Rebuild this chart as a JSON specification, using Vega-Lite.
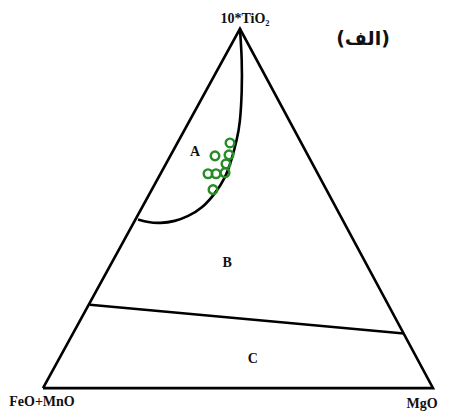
{
  "$schema": "https://vega.github.io/schema/vega-lite/v6.json",
  "width": 460,
  "height": 412,
  "padding": 0,
  "autosize": {"type": "fit", "contains": "padding"},
  "background": "white",
  "config": {"view": {"stroke": null}},
  "datasets": {
    "tri": [
      {"i": 0, "x": 0, "y": 0},
      {"i": 1, "x": 0.505, "y": 1},
      {"i": 2, "x": 1, "y": 0},
      {"i": 3, "x": 0, "y": 0}
    ],
    "curve": [
      {"i": 0, "x": 0.505, "y": 1},
      {"i": 1, "x": 0.5103, "y": 0.9144},
      {"i": 2, "x": 0.5103, "y": 0.826},
      {"i": 3, "x": 0.5051, "y": 0.7348},
      {"i": 4, "x": 0.4974, "y": 0.6934},
      {"i": 5, "x": 0.4846, "y": 0.6381},
      {"i": 6, "x": 0.4667, "y": 0.5829},
      {"i": 7, "x": 0.441, "y": 0.5414},
      {"i": 8, "x": 0.4077, "y": 0.5},
      {"i": 9, "x": 0.3718, "y": 0.4779},
      {"i": 10, "x": 0.3385, "y": 0.4641},
      {"i": 11, "x": 0.3, "y": 0.4586},
      {"i": 12, "x": 0.2692, "y": 0.4613},
      {"i": 13, "x": 0.2436, "y": 0.4696}
    ],
    "bc": [
      {"i": 0, "x": 0.1205, "y": 0.232},
      {"i": 1, "x": 0.9256, "y": 0.152}
    ],
    "pts": [
      {"x": 0.4795, "y": 0.6823},
      {"x": 0.441, "y": 0.6464},
      {"x": 0.4769, "y": 0.6492},
      {"x": 0.4692, "y": 0.6243},
      {"x": 0.4231, "y": 0.5967},
      {"x": 0.4436, "y": 0.5967},
      {"x": 0.4667, "y": 0.5994},
      {"x": 0.4359, "y": 0.5525}
    ],
    "labels": [
      {"t": "10*TiO₂", "x": 0.518, "y": 1.028, "a": "center"},
      {"t": "FeO+MnO", "x": -0.0026, "y": -0.039, "a": "center"},
      {"t": "MgO", "x": 0.972, "y": -0.045, "a": "left"},
      {"t": "A", "x": 0.39, "y": 0.657, "a": "center"},
      {"t": "B", "x": 0.472, "y": 0.348, "a": "center"},
      {"t": "C", "x": 0.538, "y": 0.08, "a": "center"}
    ],
    "title": [
      {"t": "(الف)", "x": 0.8205, "y": 0.972}
    ]
  },
  "encoding": {
    "x": {"field": "x", "type": "quantitative", "scale": {"domain": [-0.1103, 1.0692], "nice": false, "zero": false}, "axis": null},
    "y": {"field": "y", "type": "quantitative", "scale": {"domain": [-0.058, 1.0801], "nice": false, "zero": false}, "axis": null}
  },
  "layer": [
    {
      "data": {"name": "tri"},
      "mark": {"type": "line", "color": "black", "strokeWidth": 2.6, "strokeJoin": "miter"},
      "encoding": {"order": {"field": "i", "type": "quantitative"}}
    },
    {
      "data": {"name": "curve"},
      "mark": {"type": "line", "color": "black", "strokeWidth": 2.6, "interpolate": "basis"},
      "encoding": {"order": {"field": "i", "type": "quantitative"}}
    },
    {
      "data": {"name": "bc"},
      "mark": {"type": "line", "color": "black", "strokeWidth": 2.6},
      "encoding": {"order": {"field": "i", "type": "quantitative"}}
    },
    {
      "data": {"name": "pts"},
      "mark": {"type": "point", "shape": "circle", "filled": false, "color": "#268c26", "strokeWidth": 2.4, "size": 75, "opacity": 1}
    },
    {
      "data": {"name": "labels"},
      "mark": {"type": "text", "font": "Liberation Serif", "fontWeight": "bold", "fontSize": 14, "color": "#111", "baseline": "middle"},
      "encoding": {
        "text": {"field": "t"},
        "align": {"field": "a", "type": "nominal", "scale": null}
      }
    },
    {
      "data": {"name": "title"},
      "mark": {"type": "text", "font": "DejaVu Sans", "fontWeight": "bold", "fontSize": 19, "color": "#111", "baseline": "middle", "align": "center"},
      "encoding": {"text": {"field": "t"}}
    }
  ]
}
